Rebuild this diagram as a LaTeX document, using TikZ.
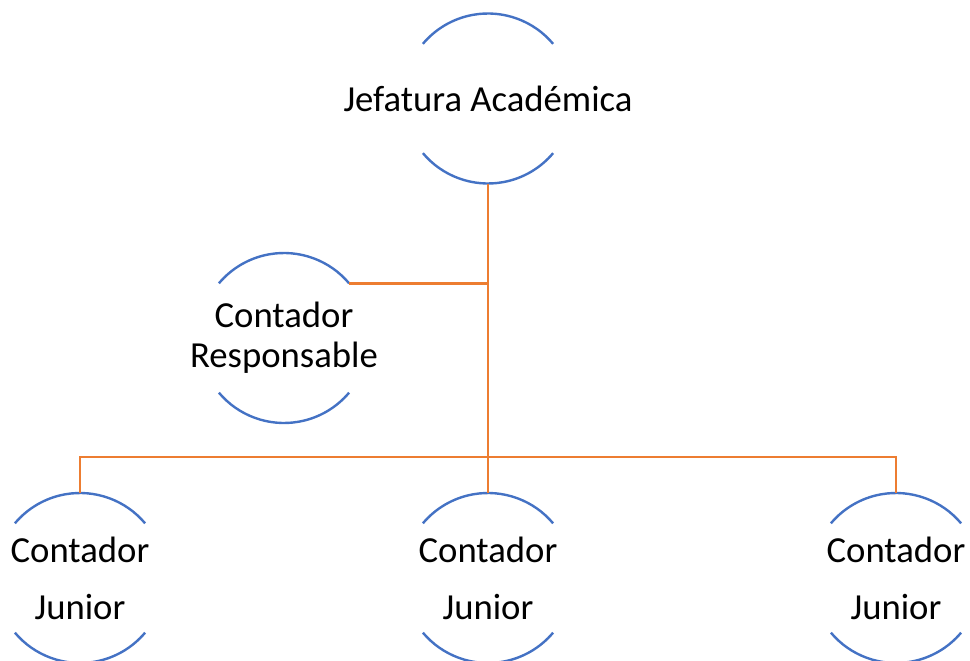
\documentclass[tikz,border=0pt]{standalone}
\usepackage{fontspec}
\setmainfont{Carlito}
\usetikzlibrary{positioning}
\definecolor{arcblue}{HTML}{4472C4}
\definecolor{linkorange}{HTML}{ED7D31}
\tikzset{
  unit/.style={inner sep=0pt, align=center,
    font=\fontsize{36.7}{40}\selectfont},
  rim/.style={draw=arcblue, line width=2.4pt},
  link/.style={draw=linkorange, line width=2.6pt}
}
\begin{document}
\begin{tikzpicture}[x=1pt,y=1pt]
			\useasboundingbox (0,0) rectangle (970,-661);
			\node[unit] (Jefa) at (488,-98.5) {Jefatura Académica};
			\node[unit] (Resp) at (284,-338) {Contador\\Responsable};
			\node[unit] (Jun1) at (80,-578) {Contador\\[17pt]Junior};
			\node[unit] (Jun2) at (488,-578) {Contador\\[17pt]Junior};
			\node[unit] (Jun3) at (896,-578) {Contador\\[17pt]Junior};
			\coordinate (bus) at (488,-457);
			\coordinate (RespTip) at ([shift={(40:85pt)}]Resp.center);
			
			% top and bottom arcs only
			\foreach \n in {Jefa,Resp,Jun1,Jun2,Jun3}{
				\draw[rim] ([shift={(40:85pt)}]\n.center) arc[start angle=40, end angle=140, radius=85pt];
				\draw[rim] ([shift={(220:85pt)}]\n.center) arc[start angle=220, end angle=320, radius=85pt];
			}
			
			\draw[link] ([yshift=-85pt]Jefa.center) -- ([yshift=85pt]Jun2.center);
			\draw[link] (RespTip) -- (RespTip -| Jefa.center);
			\draw[link] ([yshift=85pt]Jun1.center) |- (bus) -| ([yshift=85pt]Jun3.center);
		\end{tikzpicture}
\end{document}
